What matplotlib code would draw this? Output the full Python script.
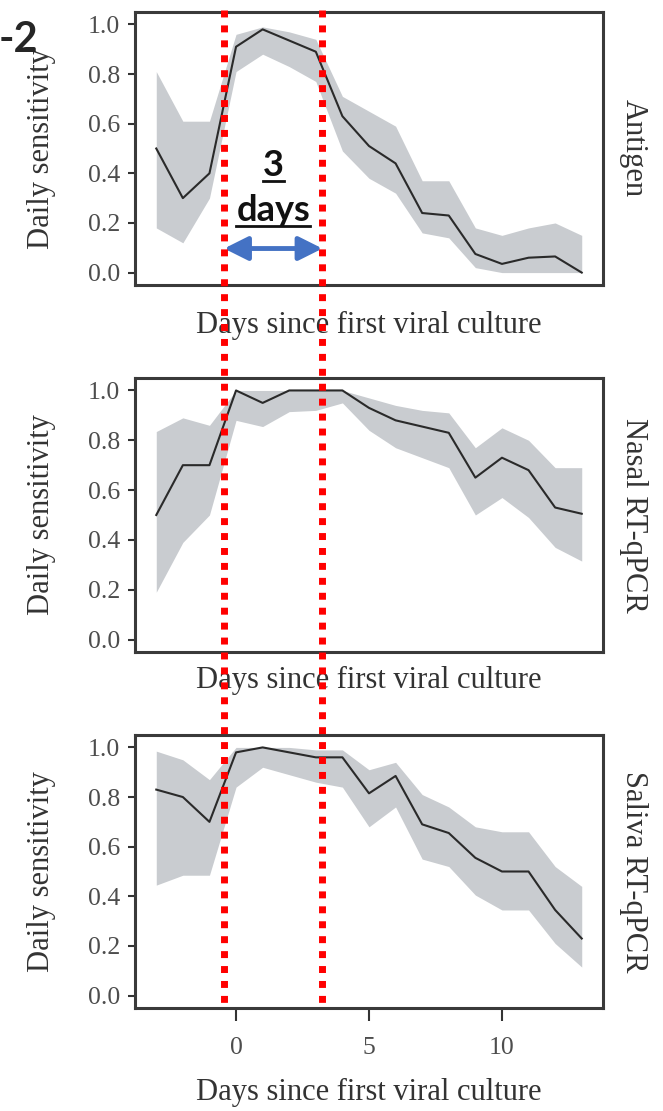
import numpy as np
import matplotlib
matplotlib.use("Agg")
import matplotlib.pyplot as plt
import matplotlib.transforms as mtransforms
from matplotlib.lines import Line2D

plt.rcParams["font.family"] = ["Liberation Serif", "DejaVu Serif"]

days = list(range(-3, 14))
panels = ["Antigen", "Nasal RT-qPCR", "Saliva RT-qPCR"]

antigen_mid = [0.50, 0.30, 0.40, 0.91, 0.98, 0.935, 0.89, 0.63, 0.51, 0.44, 0.24, 0.23, 0.075, 0.035, 0.06, 0.065, 0.0]
antigen_lo = [0.18, 0.12, 0.30, 0.81, 0.88, 0.83, 0.77, 0.49, 0.38, 0.32, 0.16, 0.14, 0.02, 0.0, 0.0, 0.0, 0.0]
antigen_hi = [0.81, 0.61, 0.61, 0.96, 0.99, 0.97, 0.94, 0.71, 0.65, 0.59, 0.37, 0.37, 0.18, 0.15, 0.18, 0.20, 0.15]

nasal_mid = [0.50, 0.70, 0.70, 1.00, 0.95, 1.00, 1.00, 1.00, 0.93, 0.88, 0.855, 0.83, 0.65, 0.73, 0.68, 0.53, 0.505]
nasal_lo = [0.19, 0.39, 0.50, 0.88, 0.855, 0.915, 0.92, 0.95, 0.84, 0.77, 0.73, 0.69, 0.50, 0.57, 0.49, 0.37, 0.315]
nasal_hi = [0.835, 0.89, 0.86, 1.0, 1.0, 1.0, 1.0, 1.0, 0.97, 0.94, 0.92, 0.91, 0.77, 0.85, 0.80, 0.69, 0.69]

saliva_mid = [0.83, 0.80, 0.70, 0.98, 1.00, 0.98, 0.96, 0.96, 0.815, 0.885, 0.69, 0.655, 0.555, 0.50, 0.50, 0.345, 0.23]
saliva_lo = [0.445, 0.485, 0.485, 0.84, 0.92, 0.89, 0.86, 0.84, 0.68, 0.76, 0.55, 0.52, 0.405, 0.345, 0.345, 0.21, 0.115]
saliva_hi = [0.985, 0.95, 0.87, 1.0, 1.0, 1.0, 0.99, 0.99, 0.91, 0.94, 0.81, 0.76, 0.68, 0.66, 0.66, 0.52, 0.44]

series = [
    (antigen_mid, antigen_lo, antigen_hi),
    (nasal_mid, nasal_lo, nasal_hi),
    (saliva_mid, saliva_lo, saliva_hi),
]

yticks = [0.0, 0.2, 0.4, 0.6, 0.8, 1.0]
xticks = [0, 5, 10]
window = (-0.45, 3.25)  # red dotted lines, days

W, H = 663, 1111
fig = plt.figure(figsize=(W / 100, H / 100), dpi=100)

# panel boxes in pixels (top, bottom)
boxes = [(12, 285), (378, 652), (735, 1008)]
xlab_base = [333, 688, 1100]
left_px, right_px = 135, 603

txt_grey = "#4d4d4d"
axes = []
for i, ((top, bot), (mid, lo, hi)) in enumerate(zip(boxes, series)):
    ax = fig.add_axes([left_px / W, 1 - bot / H, (right_px - left_px) / W, (bot - top) / H])
    ax.fill_between(days, lo, hi, color="#c9ccd0", lw=0, zorder=1)
    ax.plot(days, mid, color="#2a2a2a", lw=1.5, zorder=2)
    ax.set_xlim(-3.8, 13.8)
    ax.set_ylim(-0.05, 1.05)
    ax.set_yticks(yticks)
    ax.set_yticklabels([f"{v:.1f}" for v in yticks])
    ax.tick_params(axis="y", length=5, width=1.5, color="#333333", pad=5.5,
                   labelsize=18.5, labelcolor=txt_grey)
    if i == 2:
        ax.set_xticks(xticks)
        ax.tick_params(axis="x", length=9, width=1.5, color="#333333", pad=12,
                       labelsize=18.5, labelcolor=txt_grey)
    else:
        ax.set_xticks([])
    for s in ax.spines.values():
        s.set_color("#3a3a3a")
        s.set_linewidth(2.2)
    ax.set_ylabel("Daily sensitivity", fontsize=22, color="#333333", va="center")
    ax.yaxis.set_label_coords((42 - left_px) / (right_px - left_px), 0.5)
    ax.set_xlabel("Days since first viral culture", fontsize=22, color="#333333", va="baseline")
    ax.xaxis.set_label_coords(0.5, (bot - xlab_base[i]) / (bot - top))
    ax.text(1 + (633 - right_px) / (right_px - left_px), 0.5, panels[i], transform=ax.transAxes,
            rotation=-90, ha="center", va="center", fontsize=22, color="#333333")
    axes.append(ax)

# red dotted window lines spanning all panels
tr = mtransforms.blended_transform_factory(axes[2].transData, fig.transFigure)
for xv in window:
    fig.add_artist(Line2D([xv, xv], [1 - 10 / H, 1 - 1003 / H], transform=tr,
                          color="#ff0000", lw=5, linestyle=(0, (1.0, 1.15)),
                          dash_capstyle="butt", zorder=10))

# blue double arrow and "3 days" label in the top panel
ax0 = axes[0]
ax0.annotate("", xy=(window[1], 0.097), xytext=(window[0], 0.097),
             arrowprops=dict(arrowstyle="<|-|>,head_length=0.4,head_width=0.2",
                             color="#4472c4", lw=3.5, mutation_scale=36,
                             shrinkA=0, shrinkB=0), zorder=11)
xc = sum(window) / 2
t3 = ax0.text(xc, 0.391, "3", ha="center", va="baseline", fontsize=26,
              fontweight="bold", family="Lato", color="#111111", zorder=11)
td = ax0.text(xc, 0.206, "days", ha="center", va="baseline", fontsize=26,
              fontweight="bold", family="Lato", color="#111111", zorder=11)

fig.text(38 / W, 1 - 52 / H, "-2", ha="right", va="baseline", fontsize=30,
         fontweight="bold", family="Lato", color="#262626")

# underline the annotation text
fig.canvas.draw()
renderer = fig.canvas.get_renderer()
for t in (t3, td):
    bb = t.get_window_extent(renderer)
    y = bb.y0 + 1
    fig.add_artist(Line2D([bb.x0 / W, bb.x1 / W], [y / H, y / H], color="#111111",
                          lw=2, zorder=11))

fig.savefig("out.png", dpi=100)
